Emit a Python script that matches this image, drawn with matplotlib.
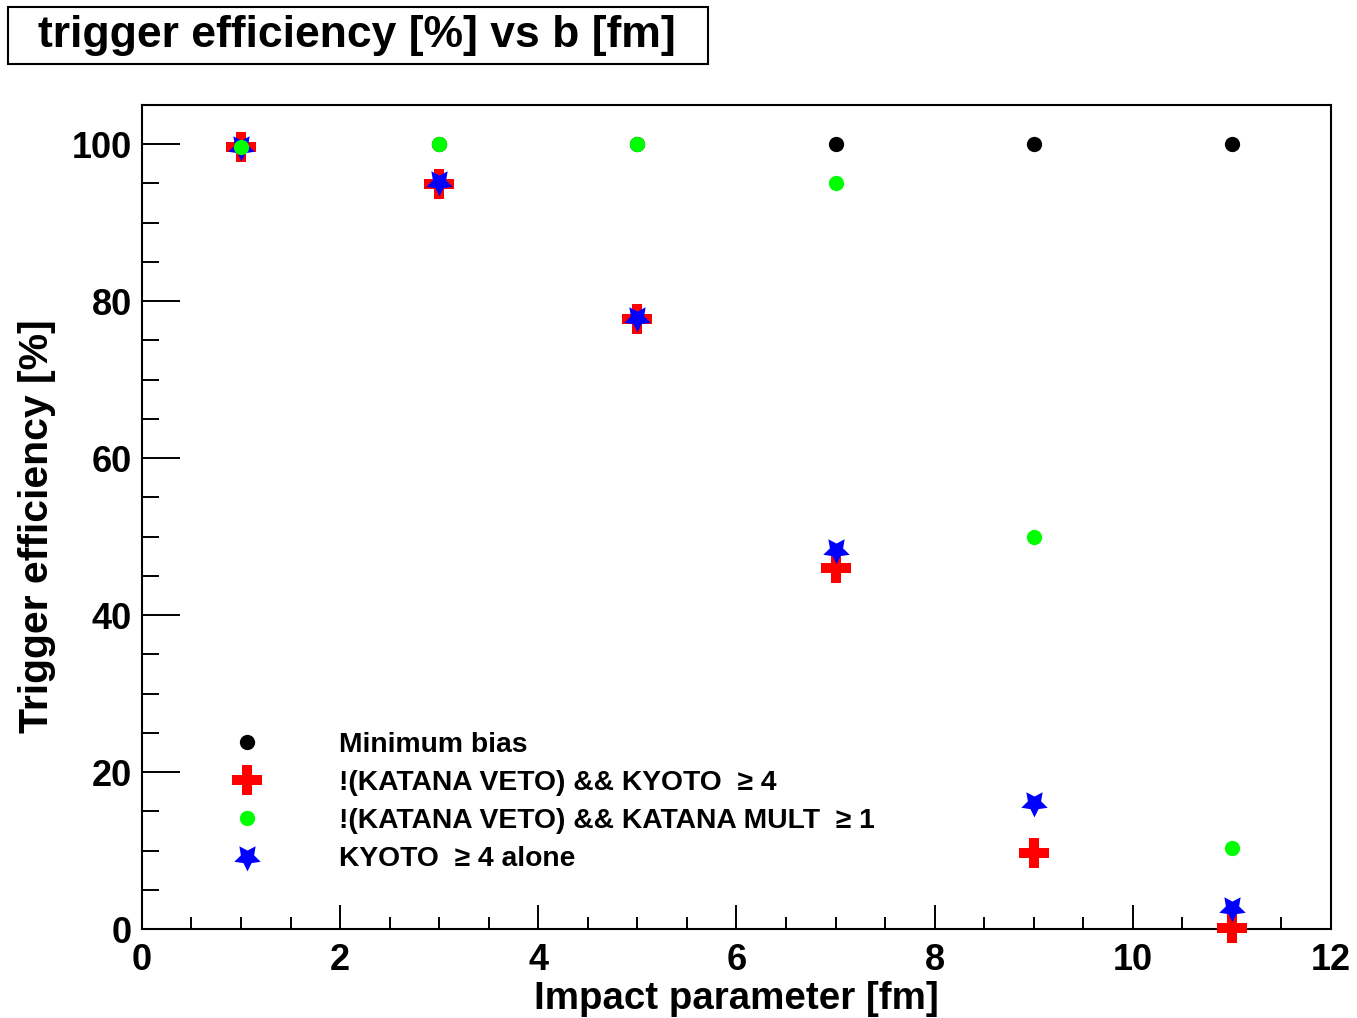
import matplotlib
matplotlib.use('Agg')
import matplotlib.pyplot as plt
from matplotlib.patches import Rectangle
from matplotlib.ticker import MultipleLocator

# ===== DATA =====
impact_b = [1, 3, 5, 7, 9, 11]                      # impact parameter [fm]
eff_min_bias = [100, 100, 100, 100, 100, 100]
eff_veto_kyoto = [99.7, 94.9, 77.7, 46.0, 9.7, 0.1]
eff_veto_katana = [99.7, 100, 100, 95.0, 49.9, 10.3]
eff_kyoto_alone = [99.6, 95.2, 77.9, 48.3, 16.0, 2.7]

labels = ['Minimum bias',
          '!(KATANA VETO) && KYOTO  \u2265 4',
          '!(KATANA VETO) && KATANA MULT  \u2265 1',
          'KYOTO  \u2265 4 alone']
# ================

plt.rcParams['font.family'] = ['Liberation Sans', 'DejaVu Sans']
plt.rcParams['font.weight'] = 'bold'

fig = plt.figure(figsize=(13.57, 10.18), dpi=100)
ax = fig.add_axes([0.1046, 0.0874, 0.8762, 0.8095])

star_down = (5, 1, 180)

# drawing order: black, red, blue, green (green ends up on top)
h_mb, = ax.plot(impact_b, eff_min_bias, 'o', color='black', ms=11, mew=0,
                zorder=3, clip_on=False)
h_vk, = ax.plot(impact_b, eff_veto_kyoto, 'P', color='#ff0000', ms=21, mew=0,
                zorder=4, clip_on=False)
h_ka, = ax.plot(impact_b, eff_kyoto_alone, marker=star_down, ls='none', color='#0000ff',
                ms=20, mew=0, zorder=5, clip_on=False)
h_vm, = ax.plot(impact_b, eff_veto_katana, 'o', color='#00ff00', ms=11, mew=0,
                zorder=6, clip_on=False)

ax.set_xlim(0, 12)
ax.set_ylim(0, 105)

ax.xaxis.set_major_locator(MultipleLocator(2))
ax.xaxis.set_minor_locator(MultipleLocator(0.5))
ax.yaxis.set_major_locator(MultipleLocator(20))
ax.yaxis.set_minor_locator(MultipleLocator(5))

ax.tick_params(axis='both', which='both', direction='in', top=False, right=False,
               width=1.4, labelsize=26, color='black')
ax.tick_params(axis='x', which='major', length=17, pad=10)
ax.tick_params(axis='x', which='minor', length=9)
ax.tick_params(axis='y', which='major', length=27, pad=7)
ax.tick_params(axis='y', which='minor', length=12)
for lbl in ax.get_xticklabels() + ax.get_yticklabels():
    lbl.set_fontweight('bold')

for sp in ax.spines.values():
    sp.set_linewidth(1.5)

ax.set_xlabel('Impact parameter [fm]', fontsize=27.7, fontweight='bold', labelpad=2)
ax.set_ylabel('Trigger efficiency [%]', fontsize=29.5, fontweight='bold')
ax.yaxis.set_label_coords(-0.072, 0.489)

# legend without frame, in the lower left of the frame
ax.legend([h_mb, h_vk, h_vm, h_ka], labels, loc='upper left',
          bbox_to_anchor=(0.065, 0.239), frameon=False,
          handlelength=2.0, handletextpad=2.24, labelspacing=0.43,
          borderpad=0, borderaxespad=0, prop={'weight': 'bold', 'size': 20.3})

# boxed title in the top-left corner
fig.patches.append(Rectangle((8 / 1357, 1 - 64 / 1018), 700 / 1357, 57 / 1018,
                             transform=fig.transFigure, fill=False,
                             edgecolor='black', linewidth=1.5))
fig.text(357 / 1357, 1 - 35 / 1018, 'trigger efficiency [%] vs b [fm]',
         ha='center', va='center', fontsize=32, fontweight='bold')

fig.savefig('out.png', dpi=100)
